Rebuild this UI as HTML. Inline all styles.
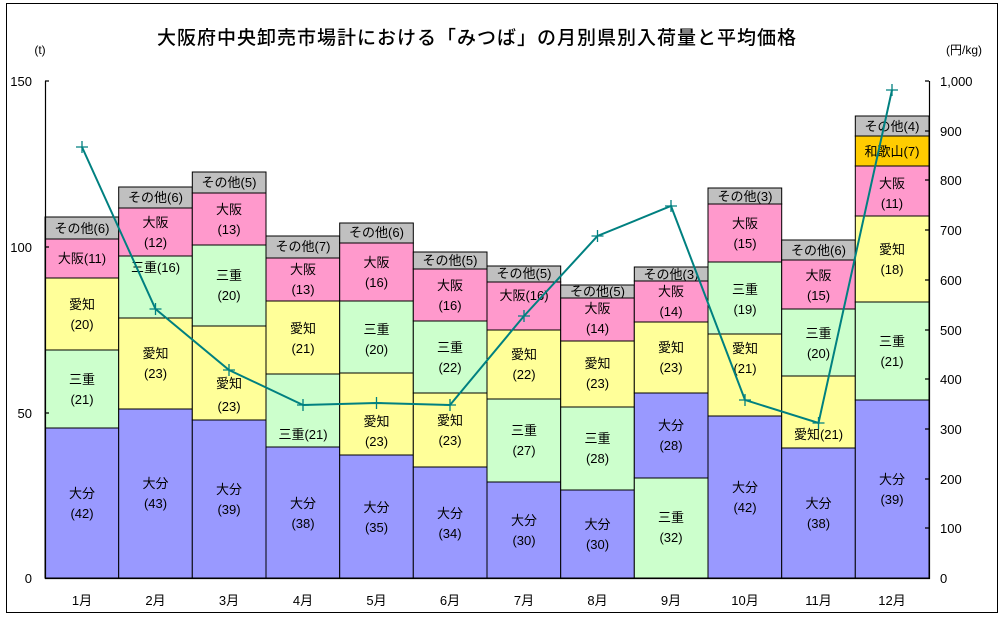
<!DOCTYPE html>
<html><head><meta charset="utf-8"><style>
html,body{margin:0;padding:0;background:#fff}
svg{display:block}
text{font-family:"Liberation Sans","Noto Sans CJK JP",sans-serif;font-size:13px;fill:#000}
.c{text-anchor:middle}
</style></head><body>
<svg width="1003" height="617" viewBox="0 0 1003 617" xmlns="http://www.w3.org/2000/svg">
<rect x="6.5" y="3.5" width="991" height="609" fill="#fff" stroke="#000" stroke-width="1"/>
<text x="477" y="44" class="c" style="font-size:19px;font-weight:500;letter-spacing:1px;font-family:'Noto Sans CJK JP',sans-serif">大阪府中央卸売市場計における「みつば」の月別県別入荷量と平均価格</text>
<text x="40" y="54" class="c" style="font-size:12px">(t)</text>
<text x="964" y="54" class="c" style="font-size:12px">(円/kg)</text>
<g stroke="#000" stroke-width="1">
<rect x="45" y="428" width="73.7" height="150" fill="#9999FF"/>
<rect x="45" y="350" width="73.7" height="78" fill="#CCFFCC"/>
<rect x="45" y="278" width="73.7" height="72" fill="#FFFF99"/>
<rect x="45" y="239" width="73.7" height="39" fill="#FF99CC"/>
<rect x="45" y="217" width="73.7" height="22" fill="#C0C0C0"/>
<rect x="118.7" y="409" width="73.6" height="169" fill="#9999FF"/>
<rect x="118.7" y="318" width="73.6" height="91" fill="#FFFF99"/>
<rect x="118.7" y="256" width="73.6" height="62" fill="#CCFFCC"/>
<rect x="118.7" y="208" width="73.6" height="48" fill="#FF99CC"/>
<rect x="118.7" y="187" width="73.6" height="21" fill="#C0C0C0"/>
<rect x="192.3" y="420" width="73.7" height="158" fill="#9999FF"/>
<rect x="192.3" y="326" width="73.7" height="94" fill="#FFFF99"/>
<rect x="192.3" y="245" width="73.7" height="81" fill="#CCFFCC"/>
<rect x="192.3" y="193" width="73.7" height="52" fill="#FF99CC"/>
<rect x="192.3" y="172" width="73.7" height="21" fill="#C0C0C0"/>
<rect x="266" y="447" width="73.7" height="131" fill="#9999FF"/>
<rect x="266" y="374" width="73.7" height="73" fill="#CCFFCC"/>
<rect x="266" y="301" width="73.7" height="73" fill="#FFFF99"/>
<rect x="266" y="258" width="73.7" height="43" fill="#FF99CC"/>
<rect x="266" y="236" width="73.7" height="22" fill="#C0C0C0"/>
<rect x="339.7" y="455" width="73.6" height="123" fill="#9999FF"/>
<rect x="339.7" y="373" width="73.6" height="82" fill="#FFFF99"/>
<rect x="339.7" y="301" width="73.6" height="72" fill="#CCFFCC"/>
<rect x="339.7" y="243" width="73.6" height="58" fill="#FF99CC"/>
<rect x="339.7" y="223" width="73.6" height="20" fill="#C0C0C0"/>
<rect x="413.3" y="467" width="73.7" height="111" fill="#9999FF"/>
<rect x="413.3" y="393" width="73.7" height="74" fill="#FFFF99"/>
<rect x="413.3" y="321" width="73.7" height="72" fill="#CCFFCC"/>
<rect x="413.3" y="269" width="73.7" height="52" fill="#FF99CC"/>
<rect x="413.3" y="252" width="73.7" height="17" fill="#C0C0C0"/>
<rect x="487" y="482" width="73.7" height="96" fill="#9999FF"/>
<rect x="487" y="399" width="73.7" height="83" fill="#CCFFCC"/>
<rect x="487" y="330" width="73.7" height="69" fill="#FFFF99"/>
<rect x="487" y="282" width="73.7" height="48" fill="#FF99CC"/>
<rect x="487" y="266" width="73.7" height="16" fill="#C0C0C0"/>
<rect x="560.7" y="490" width="73.6" height="88" fill="#9999FF"/>
<rect x="560.7" y="407" width="73.6" height="83" fill="#CCFFCC"/>
<rect x="560.7" y="341" width="73.6" height="66" fill="#FFFF99"/>
<rect x="560.7" y="298" width="73.6" height="43" fill="#FF99CC"/>
<rect x="560.7" y="285" width="73.6" height="13" fill="#C0C0C0"/>
<rect x="634.3" y="478" width="73.7" height="100" fill="#CCFFCC"/>
<rect x="634.3" y="393" width="73.7" height="85" fill="#9999FF"/>
<rect x="634.3" y="322" width="73.7" height="71" fill="#FFFF99"/>
<rect x="634.3" y="281" width="73.7" height="41" fill="#FF99CC"/>
<rect x="634.3" y="267" width="73.7" height="14" fill="#C0C0C0"/>
<rect x="708" y="416" width="73.7" height="162" fill="#9999FF"/>
<rect x="708" y="334" width="73.7" height="82" fill="#FFFF99"/>
<rect x="708" y="262" width="73.7" height="72" fill="#CCFFCC"/>
<rect x="708" y="204" width="73.7" height="58" fill="#FF99CC"/>
<rect x="708" y="188" width="73.7" height="16" fill="#C0C0C0"/>
<rect x="781.7" y="448" width="73.6" height="130" fill="#9999FF"/>
<rect x="781.7" y="376" width="73.6" height="72" fill="#FFFF99"/>
<rect x="781.7" y="309" width="73.6" height="67" fill="#CCFFCC"/>
<rect x="781.7" y="260" width="73.6" height="49" fill="#FF99CC"/>
<rect x="781.7" y="240" width="73.6" height="20" fill="#C0C0C0"/>
<rect x="855.3" y="400" width="73.7" height="178" fill="#9999FF"/>
<rect x="855.3" y="302" width="73.7" height="98" fill="#CCFFCC"/>
<rect x="855.3" y="216" width="73.7" height="86" fill="#FFFF99"/>
<rect x="855.3" y="166" width="73.7" height="50" fill="#FF99CC"/>
<rect x="855.3" y="136" width="73.7" height="30" fill="#FFCC00"/>
<rect x="855.3" y="116" width="73.7" height="20" fill="#C0C0C0"/>
</g>
<g stroke="#000" stroke-width="1.2" fill="none">
<path d="M45.5 81V578.5H929.5V81"/>
<path d="M45 81h4M45 247h4M45 413h4"/>
<path d="M925 81h4M925 131h4M925 180h4M925 230h4M925 280h4M925 330h4M925 379h4M925 429h4M925 479h4M925 528h4"/>
</g>
<g style="font-size:13px">
<text x="32" y="86" text-anchor="end">150</text>
<text x="32" y="252" text-anchor="end">100</text>
<text x="32" y="418" text-anchor="end">50</text>
<text x="32" y="583" text-anchor="end">0</text>
<text x="940" y="86">1,000</text>
<text x="940" y="136">900</text>
<text x="940" y="185">800</text>
<text x="940" y="235">700</text>
<text x="940" y="285">600</text>
<text x="940" y="335">500</text>
<text x="940" y="384">400</text>
<text x="940" y="434">300</text>
<text x="940" y="484">200</text>
<text x="940" y="533">100</text>
<text x="940" y="583">0</text>
</g>
<g class="c">
<text x="82" y="605" class="c">1月</text><text x="155.5" y="605" class="c">2月</text><text x="229" y="605" class="c">3月</text><text x="303" y="605" class="c">4月</text><text x="376.5" y="605" class="c">5月</text><text x="450" y="605" class="c">6月</text><text x="524" y="605" class="c">7月</text><text x="597.5" y="605" class="c">8月</text><text x="671" y="605" class="c">9月</text><text x="745" y="605" class="c">10月</text><text x="818.5" y="605" class="c">11月</text><text x="892" y="605" class="c">12月</text>
</g>
<g>
<text class="c" x="82" y="498">大分</text><text class="c" x="82" y="518">(42)</text>
<text class="c" x="82" y="384">三重</text><text class="c" x="82" y="404">(21)</text>
<text class="c" x="82" y="309">愛知</text><text class="c" x="82" y="329">(20)</text>
<text class="c" x="82" y="263">大阪(11)</text>
<text class="c" x="82" y="233">その他(6)</text>

<text class="c" x="155.5" y="488">大分</text><text class="c" x="155.5" y="508">(43)</text>
<text class="c" x="155.5" y="358">愛知</text><text class="c" x="155.5" y="378">(23)</text>
<text class="c" x="155.5" y="272">三重(16)</text>
<text class="c" x="155.5" y="227">大阪</text><text class="c" x="155.5" y="247">(12)</text>
<text class="c" x="155.5" y="202">その他(6)</text>

<text class="c" x="229" y="494">大分</text><text class="c" x="229" y="514">(39)</text>
<text class="c" x="229" y="388">愛知</text><text class="c" x="229" y="411">(23)</text>
<text class="c" x="229" y="280">三重</text><text class="c" x="229" y="300">(20)</text>
<text class="c" x="229" y="214">大阪</text><text class="c" x="229" y="234">(13)</text>
<text class="c" x="229" y="187">その他(5)</text>

<text class="c" x="303" y="508">大分</text><text class="c" x="303" y="528">(38)</text>
<text class="c" x="303" y="439">三重(21)</text>
<text class="c" x="303" y="333">愛知</text><text class="c" x="303" y="353">(21)</text>
<text class="c" x="303" y="274">大阪</text><text class="c" x="303" y="294">(13)</text>
<text class="c" x="303" y="251">その他(7)</text>

<text class="c" x="376.5" y="512">大分</text><text class="c" x="376.5" y="532">(35)</text>
<text class="c" x="376.5" y="426">愛知</text><text class="c" x="376.5" y="446">(23)</text>
<text class="c" x="376.5" y="334">三重</text><text class="c" x="376.5" y="354">(20)</text>
<text class="c" x="376.5" y="267">大阪</text><text class="c" x="376.5" y="287">(16)</text>
<text class="c" x="376.5" y="237">その他(6)</text>

<text class="c" x="450" y="518">大分</text><text class="c" x="450" y="538">(34)</text>
<text class="c" x="450" y="425">愛知</text><text class="c" x="450" y="445">(23)</text>
<text class="c" x="450" y="352">三重</text><text class="c" x="450" y="372">(22)</text>
<text class="c" x="450" y="290">大阪</text><text class="c" x="450" y="310">(16)</text>
<text class="c" x="450" y="265">その他(5)</text>

<text class="c" x="524" y="525">大分</text><text class="c" x="524" y="545">(30)</text>
<text class="c" x="524" y="435">三重</text><text class="c" x="524" y="455">(27)</text>
<text class="c" x="524" y="359">愛知</text><text class="c" x="524" y="379">(22)</text>
<text class="c" x="524" y="300">大阪(16)</text>
<text class="c" x="524" y="278">その他(5)</text>

<text class="c" x="597.5" y="529">大分</text><text class="c" x="597.5" y="549">(30)</text>
<text class="c" x="597.5" y="443">三重</text><text class="c" x="597.5" y="463">(28)</text>
<text class="c" x="597.5" y="368">愛知</text><text class="c" x="597.5" y="388">(23)</text>
<text class="c" x="597.5" y="313">大阪</text><text class="c" x="597.5" y="333">(14)</text>
<text class="c" x="597.5" y="296">その他(5)</text>

<text class="c" x="671" y="522">三重</text><text class="c" x="671" y="542">(32)</text>
<text class="c" x="671" y="430">大分</text><text class="c" x="671" y="450">(28)</text>
<text class="c" x="671" y="352">愛知</text><text class="c" x="671" y="372">(23)</text>
<text class="c" x="671" y="296">大阪</text><text class="c" x="671" y="316">(14)</text>
<text class="c" x="671" y="279">その他(3)</text>

<text class="c" x="745" y="492">大分</text><text class="c" x="745" y="512">(42)</text>
<text class="c" x="745" y="353">愛知</text><text class="c" x="745" y="373">(21)</text>
<text class="c" x="745" y="294">三重</text><text class="c" x="745" y="314">(19)</text>
<text class="c" x="745" y="228">大阪</text><text class="c" x="745" y="248">(15)</text>
<text class="c" x="745" y="201">その他(3)</text>

<text class="c" x="818.5" y="508">大分</text><text class="c" x="818.5" y="528">(38)</text>
<text class="c" x="818.5" y="439">愛知(21)</text>
<text class="c" x="818.5" y="338">三重</text><text class="c" x="818.5" y="358">(20)</text>
<text class="c" x="818.5" y="280">大阪</text><text class="c" x="818.5" y="300">(15)</text>
<text class="c" x="818.5" y="255">その他(6)</text>

<text class="c" x="892" y="484">大分</text><text class="c" x="892" y="504">(39)</text>
<text class="c" x="892" y="346">三重</text><text class="c" x="892" y="366">(21)</text>
<text class="c" x="892" y="254">愛知</text><text class="c" x="892" y="274">(18)</text>
<text class="c" x="892" y="188">大阪</text><text class="c" x="892" y="208">(11)</text>
<text class="c" x="892" y="156">和歌山(7)</text>
<text class="c" x="892" y="131">その他(4)</text>
</g>
<polyline fill="none" stroke="#008080" stroke-width="2" points="82,147 155.5,309 229,370 303,405 376.5,403 450,405 524,316 597.5,236 671,206 745,400 818.5,423 892,90"/>
<g stroke="#008080" stroke-width="1.3">
<path d="M76 147h12M82 141v12"/><path d="M149.5 309h12M155.5 303v12"/><path d="M223 370h12M229 364v12"/><path d="M297 405h12M303 399v12"/><path d="M370.5 403h12M376.5 397v12"/><path d="M444 405h12M450 399v12"/><path d="M518 316h12M524 310v12"/><path d="M591.5 236h12M597.5 230v12"/><path d="M665 206h12M671 200v12"/><path d="M739 400h12M745 394v12"/><path d="M812.5 423h12M818.5 417v12"/><path d="M886 90h12M892 84v12"/>
</g>
</svg>
</body></html>
